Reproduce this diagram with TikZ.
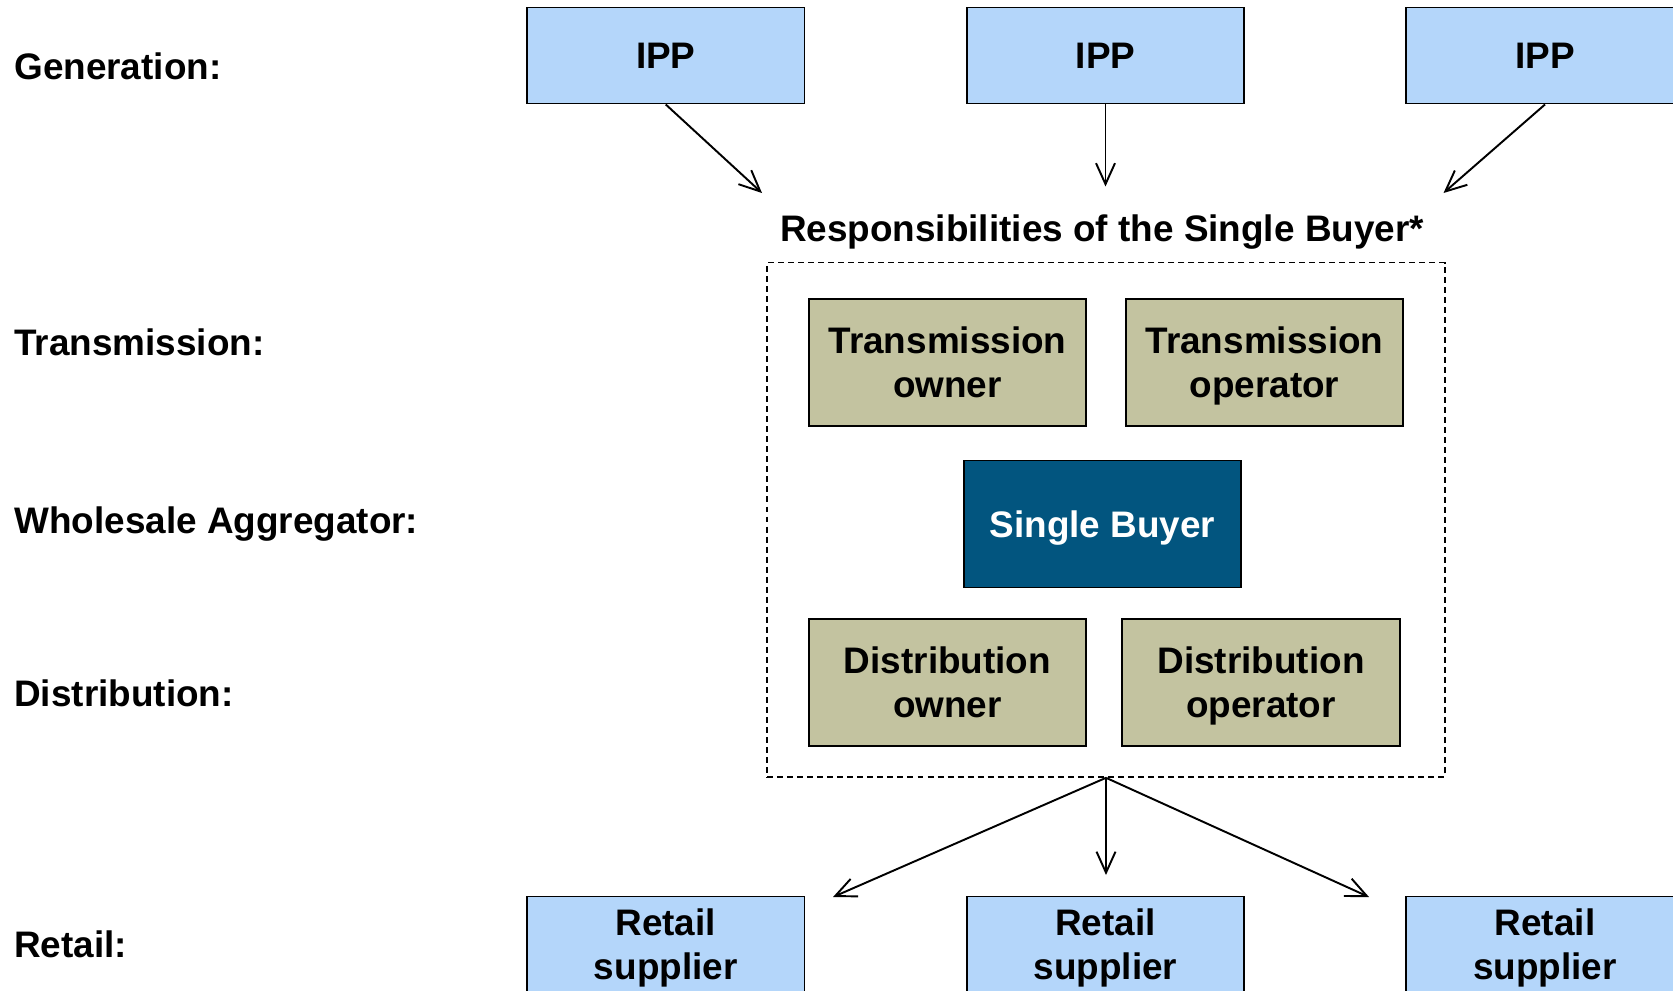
\documentclass[tikz,border=0pt]{standalone}
\usepackage{fontspec}
\setmainfont{Liberation Sans}
\usepackage{xcolor}
\usetikzlibrary{
    arrows.meta,
    shapes,
    positioning
}
\definecolor{ippblue}{HTML}{B4D6FA}
\definecolor{roleolive}{HTML}{C3C3A0}
\definecolor{buyerblue}{HTML}{02557F}

\begin{document}
\begin{tikzpicture}[>={Straight Barb[length=4.2mm,width=3.8mm]}, line width=1.1pt,
        every node/.style={text depth=0pt},
        market/.style={
            % The shape:
            rectangle,
            % The size:
            minimum width=5.55cm, minimum height=1.92cm,
            % The border
            draw=black, line width=1.1pt,
            % The filling
            fill=ippblue,
            % The text
            align=center, font=\fontsize{21}{25}\selectfont\bfseries},
        role/.style={market, minimum height=2.54cm, fill=roleolive},
        buyer/.style={role, fill=buyerblue, text=white},
        lane/.style={anchor=west, font=\fontsize{21}{25}\selectfont\bfseries},
        area/.style={draw, dash pattern=on 3.4pt off 2.3pt, line width=0.9pt,
            minimum width=13.55cm, minimum height=10.29cm}]
        \useasboundingbox (0,0) rectangle (33.46,-19.8);
        \clip (0,0) rectangle (33.46,-19.8);

        % row labels
        \node[lane] (lgen) at (0.15,-1.32) {Generation:};
        \node[lane] (ltra) at (0.15,-6.85) {Transmission:};
        \node[lane] (lwho) at (0.15,-10.41) {Wholesale Aggregator:};
        \node[lane] (ldis) at (0.15,-13.87) {Distribution:};
        \node[lane] (lret) at (0.15,-18.88) {Retail:};

        % generators and suppliers
        \foreach \x [count=\i] in {13.315,22.11,30.9}{
          \node[market] (ipp\i) at (\x,-1.11) {IPP};
          \node[market] (ret\i) at (\x,-18.89) {Retail\\supplier};
        }

        % single buyer block
        \node[font=\fontsize{21}{25}\selectfont\bfseries] (title) at (22.04,-4.56)
            {Responsibilities of the Single Buyer*};
        \node[area] (resp) at (22.12,-10.395) {};
        \node[role] (towner) at (18.95,-7.245) {Transmission\\owner};
        \node[role] (toper) at (25.29,-7.245) {Transmission\\operator};
        \node[buyer] (sb) at (22.05,-10.48) {Single Buyer};
        \node[role] (downer) at (18.95,-13.65) {Distribution\\owner};
        \node[role] (doper) at (25.22,-13.65) {Distribution\\operator};

        % flows
        \foreach \i/\x/\y in {1/15.24/-3.86, 2/22.11/-3.73, 3/28.87/-3.86}{
          \coordinate (in\i) at (\x,\y);
          \draw [->] (ipp\i.south) -- (in\i);
        }
        \foreach \i/\x/\y in {1/16.66/-17.94, 2/22.12/-17.5, 3/27.38/-17.94}{
          \coordinate (out\i) at (\x,\y);
          \draw [->] (resp.south) -- (out\i);
        }

        \end{tikzpicture}
\end{document}
